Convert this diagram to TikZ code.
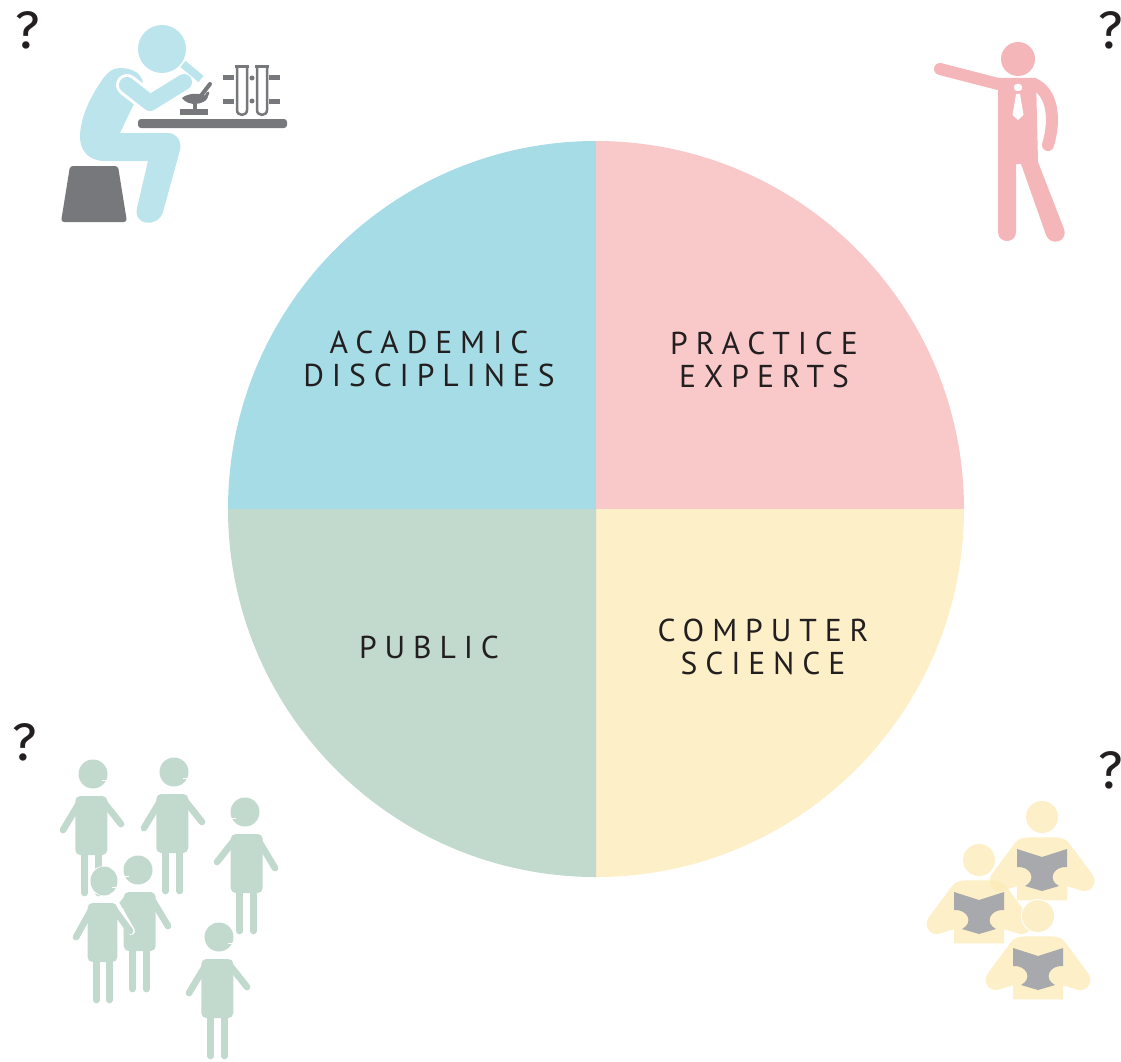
\documentclass[tikz,border=0pt]{standalone}
\usepackage{fontspec}
\usepackage{tikz}
\newfontfamily\labelfont[LetterSpace=25]{PT Sans}
\newfontfamily\askfont{Fira Sans}
\definecolor{academicblue}{HTML}{A6DCE6}
\definecolor{practicepink}{HTML}{F9C9CA}
\definecolor{publicgreen}{HTML}{C2D9CD}
\definecolor{computeryellow}{HTML}{FDEFC7}
\definecolor{readeryellow}{HTML}{FCEBB9}
\definecolor{scientistblue}{HTML}{BCE4EC}
\definecolor{expertpink}{HTML}{F4B6B9}
\definecolor{propgrey}{HTML}{77787B}
\definecolor{bookgrey}{HTML}{A7A9AC}
\definecolor{inkblack}{HTML}{231F20}
\tikzset{
  fieldlabel/.style={text=inkblack, font=\labelfont\fontsize{18}{18.7}\selectfont, align=center},
  asklabel/.style={text=inkblack, inner sep=0pt, font=\askfont\fontsize{30}{30}\selectfont},
  limb/.style={line cap=round, line join=round, line width=#1*0.02cm},
}
% one of the crowd: head at the origin, face to the right
\newcommand{\crowdperson}[3]{
  \begin{scope}[shift={(#1,#2)}, xscale=#3]
    \draw[publicgreen, limb=6.7] (-8.3,75)--(-8.3,119);
    \draw[publicgreen, limb=6.7] (5.7,75)--(5.7,119);
    \draw[publicgreen, limb=6.7] (-12,26)--(-30,56);
    \draw[publicgreen, limb=6.7] (9,26)--(28,50);
    \fill[publicgreen, rounded corners=5*0.02cm] (-17.7,22) rectangle (14.3,81);
    \fill[publicgreen] (0,0) circle (14.5);
    \draw[white, line width=0.8pt] (8.7,6.3)--(13.5,6.3);
  \end{scope}
}
% one of the readers: head at the origin
\newcommand{\bookreader}[2]{
  \begin{scope}[shift={(#1,#2)}]
    \fill[readeryellow, fill opacity=0.8] (0,0) circle (16);
    \fill[readeryellow, fill opacity=0.8] (-12,20.3) -- (12,20.3) .. controls (19,20.3) and (24,22) .. (27,26) -- (50,57)
      .. controls (56,65) and (50,75) .. (41,74) -- (25,69.3) -- (25,83.3) -- (-25,83.3) -- (-25,69.3) -- (-41,74)
      .. controls (-50,75) and (-56,65) .. (-50,57) -- (-27,26) .. controls (-24,22) and (-19,20.3) .. (-12,20.3) -- cycle;
    \fill[bookgrey] (-25,32) -- (0,40) -- (25,32) -- (25,50) .. controls (11,49) and (5,63) .. (17,69) -- (0,74)
      -- (-17,69) .. controls (-5,63) and (-11,49) .. (-25,50) -- cycle;
  \end{scope}
}

\begin{document}
\begin{tikzpicture}[x=0.02cm, y=-0.02cm]
  \useasboundingbox (0,0) rectangle (1121,1061);
  % the four fields
  \fill[academicblue] (596,509) -- (228,509) arc (180:270:368) -- cycle;
  \fill[practicepink] (596,509) -- (596,141) arc (270:360:368) -- cycle;
  \fill[computeryellow] (596,509) -- (964,509) arc (0:90:368) -- cycle;
  \fill[publicgreen] (596,509) -- (596,877) arc (90:180:368) -- cycle;
  \node[fieldlabel] (academic) at (429,359) {ACADEMIC\\DISCIPLINES};
  \node[fieldlabel] (practice) at (764,360) {PRACTICE\\EXPERTS};
  \node[fieldlabel] (public) at (429,647) {PUBLIC};
  \node[fieldlabel] (computer) at (763,647) {COMPUTER\\SCIENCE};
  \node[asklabel] (askacademic) at (28,30) {?};
  \node[asklabel] (askpractice) at (1111,30) {?};
  \node[asklabel] (askpublic) at (25,742) {?};
  \node[asklabel] (askcomputer) at (1111,770) {?};
  % scientist
  \fill[scientistblue] (100,83) .. controls (107,72) and (113,68) .. (120,68) .. controls (133,68) and (143,74) .. (143,85)
    -- (120,133) -- (168,133) .. controls (177,133) and (182,142) .. (180,150) -- (163,212)
    .. controls (158,228) and (133,226) .. (137,208) -- (148,161) -- (105,161)
    .. controls (88,161) and (80,150) .. (80,137) .. controls (80,118) and (90,98) .. (100,83) -- cycle;
  \draw[white, limb=22] (127,85)--(150,103);
  \draw[scientistblue, limb=16] (127,85)--(150,103)--(184,82);
  \fill[scientistblue] (162,49) circle (24);
  \draw[scientistblue, line width=8*0.02cm] (183,64)--(201,79);
  \fill[propgrey, rounded corners=3*0.02cm] (70,166) -- (118,166) -- (127,222) -- (61,222) -- cycle;
  \fill[propgrey, rounded corners=3*0.02cm] (138,119) rectangle (287,128);
  \fill[propgrey] (180,109) rectangle (208,115);
  \fill[propgrey] (192.5,103) rectangle (197,110);
  \fill[propgrey] (182,98) .. controls (188,93) and (200,92) .. (208,97) .. controls (205,105) and (188,107) .. (182,98) -- cycle;
  \draw[propgrey, limb=4] (200,97)--(210,84);
  \draw[propgrey, limb=3] (204,100)--(208,93);
  \foreach \tubex in {242,262} {
    \fill[propgrey] (\tubex-7.3,65) rectangle (\tubex+7.3,68);
    \draw[propgrey, line width=2.5*0.02cm] (\tubex-5,67) -- (\tubex-5,110) .. controls (\tubex-5,116.5) and (\tubex+5,116.5) .. (\tubex+5,110) -- (\tubex+5,67);
  }
  \foreach \dashy in {78,101} {
    \draw[propgrey, line width=5*0.02cm] (223,\dashy)--(234,\dashy);
    \draw[propgrey, line width=5*0.02cm] (269,\dashy)--(280,\dashy);
    \fill[propgrey] (252,\dashy) circle (2.5);
  }
  % expert
  \fill[expertpink] (1018,59) circle (17);
  \draw[expertpink, limb=12] (940,69)--(1002,85);
  \draw[expertpink, limb=12] (1034,84) .. controls (1052,92) and (1056,118) .. (1048,145);
  \fill[expertpink] (998,78) -- (1036,78) -- (1038,162) -- (1064,229) .. controls (1068,243) and (1050,246) .. (1046,235)
    -- (1021,164) -- (1016,164) -- (1016,232) .. controls (1016,244) and (998,244) .. (998,232) -- cycle;
  \fill[white, rounded corners=3*0.02cm] (1014,84) rectangle (1022,91);
  \fill[white] (1016,94) -- (1020,94) -- (1023.5,115) -- (1018,120) -- (1012.5,115) -- cycle;
  % crowd
  \crowdperson{93}{774}{1}
  \crowdperson{174}{772}{1}
  \crowdperson{245}{812}{-1}
  \crowdperson{138}{870}{-1}
  \fill[white] (104,881) circle (15);
  \draw[white, limb=8] (116,905)--(131,931);
  \crowdperson{104}{881}{0.93}
  \crowdperson{219}{937}{1}
  % readers
  \bookreader{1042}{817}
  \bookreader{979}{860}
  \fill[white] (1038,916) circle (17);
  \bookreader{1038}{916}
\end{tikzpicture}
\end{document}
